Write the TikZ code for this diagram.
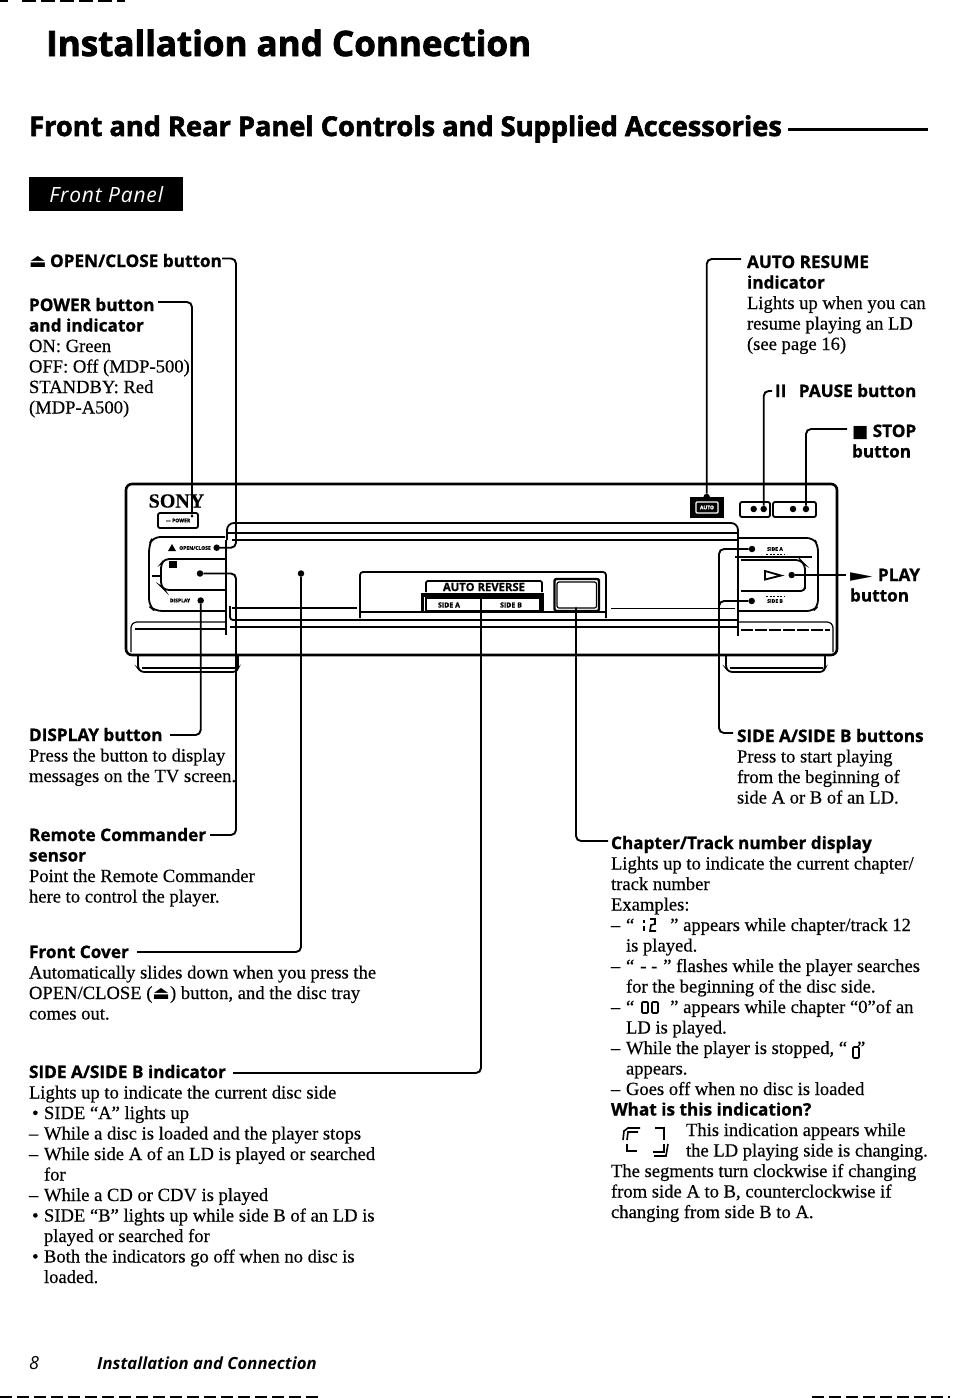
\documentclass[tikz,border=0pt]{standalone}
\usepackage{fontspec}
\setmainfont{Liberation Serif}[FakeBold=0.35]
\setsansfont{Open Sans}
\newfontfamily\djf{DejaVu Sans}
\newfontfamily\lbl{Open Sans}[BoldFeatures={FakeBold=1.0}]
\newfontfamily\headf{Open Sans}[BoldFeatures={FakeBold=2.2}]
\newfontfamily\panf{Open Sans}[LetterSpace=4]
\newcommand{\bl}[1]{{\lbl\bfseries\fontsize{17.2}{20.5}\selectfont #1}}
\newcommand{\sym}[1]{{\djf #1}}
\newcommand{\dsh}{\makebox[15pt][l]{–}}
\newcommand{\bul}{\makebox[15pt][l]{\,•}}
\newcommand{\ind}{\hspace*{15pt}}
\tikzset{
  txt/.style={inner sep=0pt,outer sep=0pt,align=left,anchor=north west,font=\fontsize{18.6}{20.5}\selectfont},
  lead/.style={line width=1.9pt,rounded corners=5pt,black},
  pt/.style={circle,fill=black,inner sep=0pt,minimum size=6.5pt},
  body/.style={line width=2.6pt,black},
  hair/.style={line width=1.2pt,black},
  mid/.style={line width=1.8pt,black},
  seg/.style={line width=1.6pt,black},
  tinyl/.style={inner sep=0pt,font=\lbl\bfseries\fontsize{5}{6}\selectfont}
}
\newcommand{\blk}[4]{\node[txt] (#1) at (#2,#3-14) {\rule{0pt}{14pt}#4};}
\begin{document}
\begin{tikzpicture}[x=1pt,y=-1pt]
\useasboundingbox (0,0) rectangle (954,1398);
\fill[white] (0,0) rectangle (954,1398);
% scan remnants
\draw[line width=2pt,dash pattern=on 14pt off 5pt] (22,0.8) -- (125,0.8);
\draw[line width=2pt] (0,0.8) -- (8,0.8);
\draw[line width=2.4pt,dash pattern=on 12pt off 5pt] (0,1396.8) -- (318,1396.8);
\draw[line width=2.4pt,dash pattern=on 12pt off 5pt] (812,1396.8) -- (950,1396.8);
% headings
\node[inner sep=0pt,anchor=base west,font=\headf\bfseries\fontsize{35}{40}\selectfont] (title) at (46,56) {Installation and Connection};
\node[inner sep=0pt,anchor=base west,font=\headf\bfseries\fontsize{27.2}{30}\selectfont] (sect) at (29,136) {Front and Rear Panel Controls and Supplied Accessories};
\coordinate (ruleA) at (788,129); \coordinate (ruleB) at (928,129);
\draw[line width=3pt] (ruleA) -- (ruleB);
\node[fill=black,text=white,minimum width=154pt,minimum height=34pt,inner sep=0pt,anchor=north west,font=\panf\itshape\fontsize{21}{24}\selectfont] (fp) at (29,177) {Front Panel};

% device body
\draw[body,rounded corners=6pt] (126,484) rectangle (837,655);
\draw[mid,rounded corners=3pt] (138,655) -- (138,668) -- (141,672) -- (236,672) -- (238,668) -- (238,655);
\draw[hair] (142,668) -- (236,668);
\draw[mid,rounded corners=3pt] (726,655) -- (726,668) -- (729,672) -- (823,672) -- (825,668) -- (825,655);
\draw[hair] (730,668) -- (823,668);
\node[inner sep=0pt,font=\bfseries\fontsize{20}{21}\selectfont] (sony) at (176.5,501) {SONY};
\draw[mid,rounded corners=2pt] (158,513) rectangle (198,528);
\node[tinyl] (powtxt) at (178,520.5) {— POWER};
% front cover outline
\draw[mid,rounded corners=7pt] (227,540) -- (227,523) -- (738,523) -- (738,540);
\draw[mid] (227,533) -- (738,533);
\draw[mid] (232,540) -- (738,540);
\draw[line width=2.4pt] (234,620) -- (738,620);
\draw[mid,rounded corners=3pt] (230,606) -- (230,620) -- (236,620);
\draw[mid] (226,540) -- (226,635);
\draw[mid] (738,532) -- (738,636);
\draw[hair] (230,627) -- (738,627);
\draw[hair,rounded corners=6pt] (226,622) -- (131,622) -- (131,652);
\draw[hair] (135,629) -- (225,629);
\draw[hair,rounded corners=6pt] (738,622) -- (833,622) -- (833,652);
\draw[hair,dash pattern=on 12pt off 2pt] (741,630) -- (830,630);
\draw[hair] (232,608) -- (357,608);
\draw[hair] (611,608.5) -- (735,608.5);
% left panel
\draw[mid,rounded corners=7pt] (225,537) -- (153,537) -- (149,545) -- (149,606) -- (155,611) -- (225,611);
\draw[mid,rounded corners=4pt] (225,559) -- (165,559) -- (161,564) -- (161,586) -- (165,590) -- (225,590);
\draw[mid] (152,576) -- (161,576);
\fill (169,561) rectangle (177,568);
\fill (172,544) -- (176,551) -- (168,551) -- cycle;
\node[tinyl] (optxt) at (195,548) {OPEN/CLOSE};
\node[tinyl] (distxt) at (180,600.5) {DISPLAY};
% centre window
\draw[mid,rounded corners=3pt] (360,618) -- (360,572) -- (606,572) -- (606,618);
\draw[hair] (360,612) -- (606,612);
\draw[mid,rounded corners=2pt] (426,592) -- (426,581) -- (542,581) -- (542,592);
\node[inner sep=0pt,font=\lbl\bfseries\fontsize{11.3}{14}\selectfont] (autotxt) at (484,587) {AUTO REVERSE};
\fill (422,593) rectangle (544,597);
\fill (421,593) rectangle (424,612);
\fill (541,593) rectangle (544,612);
\draw[hair] (426,598) rectangle (540,611);
\draw[mid] (481,598) -- (481,611);
\node[inner sep=0pt,font=\lbl\bfseries\fontsize{7}{8}\selectfont] (sa) at (449,605) {SIDE A};
\node[inner sep=0pt,font=\lbl\bfseries\fontsize{7}{8}\selectfont] (sb) at (511,605) {SIDE B};
\draw[line width=2.4pt,rounded corners=2pt] (554.5,579) rectangle (599,611);
\draw[hair,rounded corners=2pt] (557,582) rectangle (596.5,608);
% right panel
\draw[mid,rounded corners=6pt] (738,538) -- (813,538) -- (818,545) -- (818,606) -- (813,611) -- (738,611);
\draw[mid,rounded corners=4pt] (741,560) -- (800,560) -- (805,565) -- (805,585) -- (805,591) -- (741,591);
\draw[hair] (735,557) -- (812,557);
\draw[mid] (765,571) -- (781,575.5) -- (765,579.5) -- cycle;
\node[tinyl] (satxt) at (775,549) {SIDE A};
\node[tinyl] (sbtxt) at (775,601) {SIDE B};
\draw[line width=1pt,dash pattern=on 2pt off 1.5pt] (766,554) -- (785,554);
\draw[line width=1pt,dash pattern=on 2pt off 1.5pt] (766,596) -- (785,596);
% top right controls
\node[fill=black,minimum width=34pt,minimum height=21pt,inner sep=0pt] (ardisp) at (706.5,507) {};
\draw[white,line width=1.2pt,rounded corners=1pt] (696,502) rectangle (718,513);
\node[tinyl,text=white] (artxt) at (707,507.5) {AUTO};
\draw[mid,rounded corners=2pt] (740,502) rectangle (770,517);
\draw[mid,rounded corners=2pt] (773,502) rectangle (816,517);
\node[pt] (pd1) at (753.7,509) {};
\node[pt] (stopd1) at (793,509) {};

% anchor points on the device
\node[pt] (dopen) at (216.7,547.7) {};
\node[pt,minimum size=3pt] (dpower) at (192,516) {};
\node[pt] (dremote) at (200,573.5) {};
\node[pt] (ddisp) at (200.7,600.5) {};
\node[pt] (dcover) at (301,573.5) {};
\node[pt] (dauto) at (706.7,497) {};
\node[pt] (dpause) at (763.7,509) {};
\node[pt] (dstop) at (806,509) {};
\node[pt] (dsa) at (752,549) {};
\node[pt] (dsb) at (751.7,601) {};
\node[pt] (dplay) at (791.7,575) {};
\node[pt,minimum size=1pt] (dnum) at (576,607) {};
\node[pt,minimum size=1pt] (dside) at (481,611) {};

% leader ends
\coordinate (eopen) at (222,258.5);
\coordinate (epower) at (158,302);
\coordinate (edisp) at (170,735);
\coordinate (eremote) at (210,835);
\coordinate (ecover) at (137,952);
\coordinate (eside) at (233,1073);
\coordinate (eauto) at (741,259);
\coordinate (epause) at (772,391);
\coordinate (estop) at (847,429);
\coordinate (eplay) at (846,575);
\coordinate (esab) at (733,733);
\coordinate (enum) at (608,841);

\draw[lead] (eopen) -| (236,400) |- (dopen);
\draw[lead] (eremote) -| (236,700) |- (dremote);
\draw[lead] (epower) -| (dpower);
\draw[lead] (edisp) -| (ddisp);
\draw[lead] (ecover) -| (dcover);
\draw[lead] (eside) -| (dside);
\draw[lead] (enum) -| (dnum);
\draw[lead] (eauto) -| (dauto);
\draw[lead] (epause) -| (dpause);
\draw[lead] (estop) -| (dstop);
\draw[lead] (dplay) -- (eplay);
\draw[lead] (esab) -| (719,650) |- (dsa);
\draw[lead] (719,620) |- (dsb);

% left column
\blk{topen}{29}{267}{\sym{⏏}\bl{\hspace{-1pt} OPEN/CLOSE button}}
\blk{tpower}{29}{311}{\bl{POWER button}\\\bl{and indicator}\\ON: Green\\OFF: Off (MDP-500)\\STANDBY: Red\\(MDP-A500)}
\blk{tdisp}{29}{741}{\bl{DISPLAY button}\\Press the button to display\\messages on the TV screen.}
\blk{tremote}{29}{841}{\bl{Remote Commander}\\\bl{sensor}\\Point the Remote Commander\\here to control the player.}
\blk{tcover}{29}{958}{\bl{Front Cover}\\Automatically slides down when you press the\\OPEN/CLOSE (\sym{⏏}) button, and the disc tray\\comes out.}
\blk{tside}{29}{1078}{\bl{SIDE A/SIDE B indicator}\\Lights up to indicate the current disc side\\\bul SIDE “A” lights up\\\dsh While a disc is loaded and the player stops\\\dsh While side A of an LD is played or searched\\\ind for\\\dsh While a CD or CDV is played\\\bul SIDE “B” lights up while side B of an LD is\\\ind played or searched for\\\bul Both the indicators go off when no disc is\\\ind loaded.}
% right column
\blk{tauto}{747}{268}{\bl{AUTO RESUME}\\\bl{indicator}\\Lights up when you can\\resume playing an LD\\(see page 16)}
\blk{tpause}{775}{397}{\bl{II\hspace{8pt} PAUSE button}}
\blk{tstop}{852}{437}{\bl{\sym{■} STOP}\\\bl{button}}
\blk{tplay}{850}{581}{\bl{\scalebox{1.7}[1]{\sym{►}}\hspace{1pt} PLAY}\\\bl{button}}
\blk{tsab}{737}{742}{\bl{SIDE A/SIDE B buttons}\\Press to start playing\\from the beginning of\\side A or B of an LD.}
\blk{tnum}{611}{849}{\bl{Chapter/Track number display}\\Lights up to indicate the current chapter/\\track number\\Examples:\\\dsh “\hspace{36pt}” appears while chapter/track 12\\\ind is played.\\\dsh “\hspace{6pt}- -\hspace{6pt}” flashes while the player searches\\\ind for the beginning of the disc side.\\\dsh “\hspace{36pt}” appears while chapter “0”of an\\\ind LD is played.\\\dsh While the player is stopped, “\hspace{10pt}”\\\ind appears.\\\dsh Goes off when no disc is loaded\\\bl{What is this indication?}\\\hspace*{75pt}This indication appears while\\\hspace*{75pt}the LD playing side is changing.\\The segments turn clockwise if changing\\from side A to B, counterclockwise if\\changing from side B to A.}
% seven-segment glyphs
\draw[seg] (644,920) -- (644,923) (644,926) -- (644,931);
\draw[seg] (650,919) -- (655,919) -- (655,924) -- (651,925) -- (650,931) -- (656,931);
\draw[seg,rounded corners=1pt] (642,1002) rectangle (648,1013);
\draw[seg,rounded corners=1pt] (652,1002) rectangle (658,1013);
\draw[seg,rounded corners=1pt] (853,1047) rectangle (859,1058);
\draw[seg] (623,1140) -- (624,1131) -- (628,1128) -- (640,1128);
\draw[seg] (627,1140) -- (628,1132) -- (638,1132);
\draw[seg] (655,1128) -- (664,1128) -- (664,1140);
\draw[seg] (627,1144) -- (627,1151) -- (637,1151);
\draw[seg] (653,1152) -- (664,1152) -- (664,1144);
\draw[seg] (654,1156) -- (666,1156) -- (668,1144);
% footer
\node[inner sep=0pt,anchor=base west,font=\lbl\itshape\fontsize{18}{20}\selectfont] (pg) at (29,1369) {8};
\node[inner sep=0pt,anchor=base west,font=\lbl\itshape\bfseries\fontsize{16.7}{20}\selectfont] (foot) at (97,1369) {Installation and Connection};
\end{tikzpicture}
\end{document}
